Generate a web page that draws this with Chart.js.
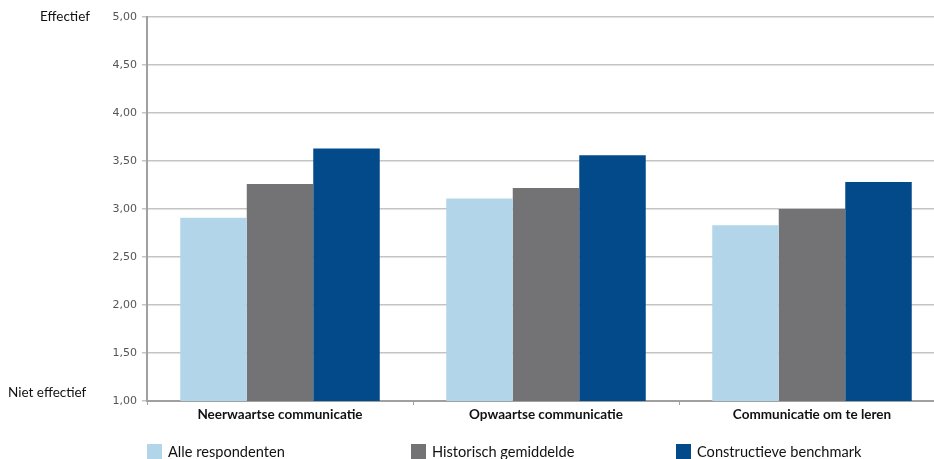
<!DOCTYPE html>
<html>
<head>
<meta charset="utf-8">
<script src="https://cdn.jsdelivr.net/npm/chart.js@4.4.0/dist/chart.umd.min.js"></script>
<style>
  html, body { margin: 0; padding: 0; background: #fff; overflow: hidden; width: 934px; height: 459px; }
  #wrap { position: relative; width: 934px; height: 459px; overflow: hidden; }
  canvas { position: absolute; left: 0; top: 0; }
  .side { position: absolute; font-family: Lato, "Open Sans", sans-serif; font-size: 13.5px; color: #111; white-space: nowrap; }
  .leg { position: absolute; top: 443px; font-family: Lato, "Open Sans", sans-serif; font-size: 14.6px; color: #111; white-space: nowrap; display: flex; align-items: center; }
  .leg span.box { display: inline-block; width: 15px; height: 15px; margin-right: 6px; }
</style>
</head>
<body>
<div id="wrap">
  <canvas id="c" width="946" height="459"></canvas>
  <div class="side" style="left:40px; top:8px;">Effectief</div>
  <div class="side" style="left:8px; top:384px;">Niet effectief</div>
  <div id="legend"></div>
</div>
<script>
const categories = ['Neerwaartse communicatie', 'Opwaartse communicatie', 'Communicatie om te leren'];
const seriesNames = ['Alle respondenten', 'Historisch gemiddelde', 'Constructieve benchmark'];
const alleRespondenten = [2.91, 3.11, 2.83];
const historischGemiddelde = [3.26, 3.22, 3.00];
const constructieveBenchmark = [3.63, 3.56, 3.28];
const yTickValues = [1.0, 1.5, 2.0, 2.5, 3.0, 3.5, 4.0, 4.5, 5.0];
const yTickLabels = ['1,00', '1,50', '2,00', '2,50', '3,00', '3,50', '4,00', '4,50', '5,00'];
const colors = ['#b2d5ea', '#737375', '#034a8b'];

const legendX = [147, 411, 676];
const legendEl = document.getElementById('legend');
seriesNames.forEach((n, i) => {
  const d = document.createElement('div');
  d.className = 'leg';
  d.style.left = legendX[i] + 'px';
  d.innerHTML = '<span class="box" style="background:' + colors[i] + '"></span>' + n;
  legendEl.appendChild(d);
});

new Chart(document.getElementById('c'), {
  type: 'bar',
  data: {
    labels: categories,
    datasets: [
      { label: seriesNames[0], data: alleRespondenten, backgroundColor: colors[0] },
      { label: seriesNames[1], data: historischGemiddelde, backgroundColor: colors[1] },
      { label: seriesNames[2], data: constructieveBenchmark, backgroundColor: colors[2] }
    ]
  },
  options: {
    responsive: false,
    animation: false,
    devicePixelRatio: 1,
    layout: { padding: { top: 17, bottom: 28, left: 0, right: 1 } },
    plugins: { legend: { display: false }, tooltip: { enabled: false } },
    datasets: { bar: { categoryPercentage: 0.75, barPercentage: 1.0, borderWidth: 0 } },
    scales: {
      x: {
        grid: { display: true, drawOnChartArea: false, drawTicks: true, tickLength: 4, color: '#a0a0a0', offset: true },
        border: { color: '#a0a0a0', width: 2 },
        ticks: {
          color: '#111',
          font: { family: 'Lato, "Open Sans", sans-serif', size: 13.5, weight: 'bold' },
          padding: 2,
          maxRotation: 0
        },
        afterFit: s => { s.height = 30; }
      },
      y: {
        min: 1, max: 5,
        afterBuildTicks: s => { s.ticks = yTickValues.map(v => ({ value: v })); },
        grid: { color: '#c4c4c4', lineWidth: 1.5, tickLength: 5, drawTicks: true },
        border: { color: '#a0a0a0', width: 2 },
        ticks: {
          color: '#555',
          font: { family: '"DejaVu Sans", Verdana, sans-serif', size: 11 },
          padding: 5,
          callback: (v) => { const i = yTickValues.indexOf(v); return i >= 0 ? yTickLabels[i] : ''; }
        },
        afterFit: s => { s.width = 147; }
      }
    }
  }
});
</script>
</body>
</html>
